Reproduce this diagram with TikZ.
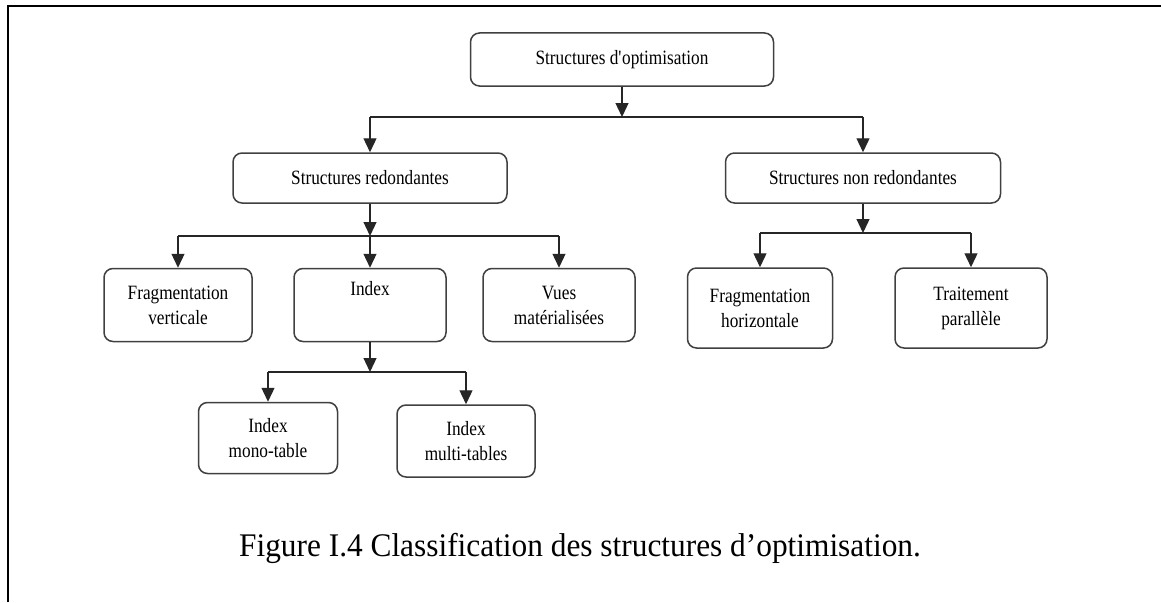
\documentclass[tikz,border=0pt]{standalone}
\usepackage{fontspec}
\setmainfont[FakeStretch=0.85]{Liberation Serif}
\newfontfamily\capfont[FakeStretch=0.95]{Liberation Serif}
\usetikzlibrary{arrows.meta}

\begin{document}
\begin{tikzpicture}[x=1pt,y=-1pt,
  box/.style={draw=black!75, line width=1.5pt, rounded corners=9pt, fill=white,
    align=center, inner sep=0pt, font=\fontsize{20.3}{25}\selectfont},
  link/.style={draw=black!85, line width=1.3pt},
  arr/.style={link, -{Triangle[length=14pt,width=13pt]}}]
\useasboundingbox (0,0) rectangle (1161,602);

% open frame: top and left rules only
\draw[line width=2.2pt] (8,602) -- (8,6) -- (1161,6);

% boxes
\node[box, minimum width=303, minimum height=53] (root) at (622,59.5) {\raisebox{4pt}{Structures d\textquotesingle optimisation}};
\node[box, minimum width=274, minimum height=50] (red)  at (370,178) {Structures redondantes};
\node[box, minimum width=275, minimum height=50] (nred) at (863,178) {Structures non redondantes};
\node[box, minimum width=148, minimum height=73] (fv)   at (178,305) {Fragmentation\\verticale};
\node[box, minimum width=152, minimum height=73] (idx)  at (370,305) {Index\\\strut};
\node[box, minimum width=152, minimum height=73] (vm)   at (559,305) {Vues\\matérialisées};
\node[box, minimum width=145, minimum height=80] (fh)   at (760,308) {Fragmentation\\horizontale};
\node[box, minimum width=152, minimum height=80] (tp)   at (971,308) {Traitement\\parallèle};
\node[box, minimum width=139, minimum height=71] (imt)  at (268,438) {Index\\mono-table};
\node[box, minimum width=138, minimum height=72] (imu)  at (466,441) {Index\\multi-tables};

% junction points of the tree
\coordinate (j0) at (622,117);
\coordinate (j1) at (370,236);
\coordinate (j2) at (863,233);
\coordinate (j3) at (370,372);

% root -> first level
\draw[arr] (root.south) -- (j0);
\draw[link] (j0 -| red.north) -- (j0 -| nred.north);
\draw[arr] (j0 -| red.north) -- (red.north);
\draw[arr] (j0 -| nred.north) -- (nred.north);

% redundant structures
\draw[arr] (red.south) -- (j1);
\draw[link] (j1 -| fv.north) -- (j1 -| vm.north);
\draw[arr] (j1 -| fv.north) -- (fv.north);
\draw[arr] (j1) -- (idx.north);
\draw[arr] (j1 -| vm.north) -- (vm.north);

% non-redundant structures
\draw[arr] (nred.south) -- (j2);
\draw[link] (j2 -| fh.north) -- (j2 -| tp.north);
\draw[arr] (j2 -| fh.north) -- (fh.north);
\draw[arr] (j2 -| tp.north) -- (tp.north);

% index kinds
\draw[arr] (idx.south) -- (j3);
\draw[link] (j3 -| imt.north) -- (j3 -| imu.north);
\draw[arr] (j3 -| imt.north) -- (imt.north);
\draw[arr] (j3 -| imu.north) -- (imu.north);

% caption
\node (cap) at (580,548) {\capfont\fontsize{33}{38}\selectfont Figure I.4 Classification des structures d’optimisation.};
\end{tikzpicture}
\end{document}
